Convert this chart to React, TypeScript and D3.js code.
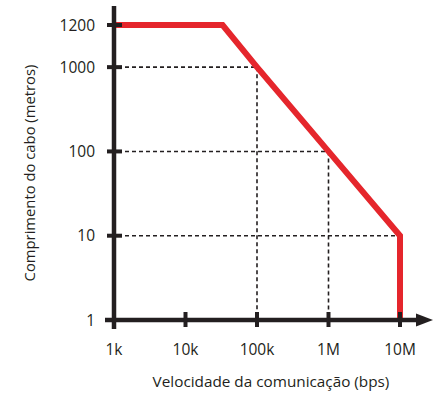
import React from 'react';
import * as d3 from 'd3';

// x: communication speed (bps), y: cable length (m)
const xTicks = [1e3, 1e4, 1e5, 1e6, 1e7];
const xTickLabels = ['1k', '10k', '100k', '1M', '10M'];
const yTicks = [1, 10, 100, 1000, 1200];
const yTickLabels = ['1', '10', '100', '1000', '1200'];

// limit curve
const limitSpeed = [1e3, 33000, 1e5, 1e6, 1e7, 1e7];
const limitLength = [1200, 1200, 1000, 100, 10, 1];

// dashed guides
const guideSpeed = [1e5, 1e6, 1e7];
const guideLength = [1000, 100, 10];

const xTitle = 'Velocidade da comunicação (bps)';
const yTitle = 'Comprimento do cabo (metros)';

const W = 435;
const H = 394;
const FONT = '"Open Sans", "Noto Sans", sans-serif';
const INK = '#231f20';
const RED = '#e5262c';

export default function App() {
  const x = d3.scaleLog().domain([1e3, 1e7]).range([114, 400]);
  // 1200 sits half a decade above 1000 (axis is broken at the top)
  const yLog = d3.scaleLog().domain([1, Math.pow(10, 3.5)]).range([320, 25]);
  const y = (v: number) => (v > 1000 ? yLog(Math.pow(10, 3.5)) : yLog(v));

  const x0 = x(1e3);
  const y0 = y(1);

  const limit = limitSpeed.map((s, i) => [s, limitLength[i]] as [number, number]);
  const line = d3
    .line<[number, number]>()
    .x((d) => x(d[0]))
    .y((d) => y(d[1]));

  return (
    <svg
      width={W}
      height={H}
      style={{ position: 'absolute', left: 0, top: 0, background: '#fff' }}
    >
      {/* dashed guides */}
      {guideSpeed.map((s, i) => (
        <g key={'g' + i} stroke={INK} strokeWidth={1.6} strokeDasharray="4 3" fill="none">
          <line x1={x0 + 4} x2={x(s)} y1={y(guideLength[i])} y2={y(guideLength[i])} />
          <line x1={x(s)} x2={x(s)} y1={y(guideLength[i])} y2={y0 - 3} />
        </g>
      ))}

      {/* limit curve */}
      <path
        d={line(limit) || ''}
        fill="none"
        stroke={RED}
        strokeWidth={6}
        strokeLinejoin="miter"
      />

      {/* axes */}
      <line x1={x0} x2={x0} y1={6} y2={329} stroke={INK} strokeWidth={4.5} />
      <line x1={105} x2={420} y1={y0} y2={y0} stroke={INK} strokeWidth={4.5} />
      <path
        d={`M${416},${y0 - 6.5}L${433},${y0}L${416},${y0 + 6.5}Z`}
        fill={INK}
      />

      {/* y ticks */}
      {yTicks.map((t, i) => (
        <g key={'y' + i}>
          <line
            x1={i === 0 ? 105 : 107}
            x2={i === 0 ? x0 : 122}
            y1={y(t)}
            y2={y(t)}
            stroke={INK}
            strokeWidth={4}
          />
          <text
            x={95}
            y={y(t)}
            dy="0.36em"
            textAnchor="end"
            fontFamily={FONT}
            fontSize={15.5}
            fill={INK}
          >
            {yTickLabels[i]}
          </text>
        </g>
      ))}

      {/* x ticks */}
      {xTicks.map((t, i) => (
        <g key={'x' + i}>
          {i > 0 && (
            <line x1={x(t)} x2={x(t)} y1={312} y2={327} stroke={INK} strokeWidth={4} />
          )}
          <text
            x={x(t)}
            y={355}
            textAnchor="middle"
            fontFamily={FONT}
            fontSize={15.5}
            fill={INK}
          >
            {xTickLabels[i]}
          </text>
        </g>
      ))}

      {/* titles */}
      <text
        x={271}
        y={387}
        textAnchor="middle"
        fontFamily={FONT}
        fontSize={15.3}
        fill={INK}
      >
        {xTitle}
      </text>
      <text
        transform="translate(35,173) rotate(-90)"
        textAnchor="middle"
        fontFamily={FONT}
        fontSize={14.8}
        fill={INK}
      >
        {yTitle}
      </text>
    </svg>
  );
}
